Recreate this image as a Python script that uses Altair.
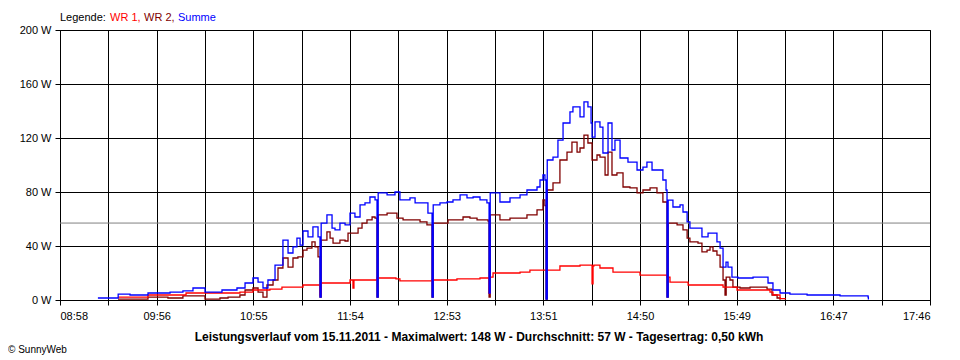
import altair as alt
import pandas as pd

# ---------------- data (time = minutes of day, power in W) ----------------
summe_t = [561.0, 573.2, 573.3, 580.5, 591.4, 604.8, 612.6, 618.7, 626.0, 636.3, 645.4, 650.3,
           655.1, 658.2, 661.2, 664.2, 668.5, 673.3, 676.4, 679.4, 681.8, 683.7, 685.5, 688.5,
           691.5, 694.6, 695.8, 696.5, 700.0, 703.1, 704.9, 707.9, 711.0, 714.0, 717.0, 720.1,
           723.1, 726.1, 729.2, 730.4, 731.1, 736.5, 741.3, 744.3, 750.4, 753.5, 758.3, 761.3,
           763.8, 764.5, 768.6, 772.9, 776.5, 780.8, 785.0, 788.7, 792.9, 797.1, 798.4, 799.1,
           805.0, 811.1, 817.2, 821.4, 827.5, 829.3, 831.1, 832.3, 833.0, 833.7, 837.2, 840.2,
           843.3, 847.5, 849.3, 853.6, 856.0, 858.4, 860.3, 860.9, 862.7, 865.7, 867.5, 870.6,
           873.0, 874.8, 877.9, 882.7, 888.2, 891.8, 894.2, 897.3, 900.9, 903.9, 905.8, 906.4,
           907.1, 910.0, 914.3, 916.1, 918.6, 920.3, 925.2, 927.6, 931.3, 933.7, 936.7, 938.6,
           940.4, 942.2, 943.4, 945.8, 949.5, 958.6, 964.7, 967.7, 970.7, 975.0, 981.0, 991.4,
           1011.4, 1028.4, 1028.6]
summe_w = [1.5, 1.5, 4.4, 3.7, 5.2, 5.9, 6.7, 8.9, 5.9, 7.4, 8.9, 12.6,
           16.3, 13.3, 8.9, 14.8, 25.9, 44.4, 34.8, 39.3, 45.9, 40.7, 51.1, 46.7,
           54.1, 46.7, 2.2, 57.0, 63.0, 53.3, 51.9, 57.0, 55.6, 64.4, 61.5, 70.4,
           71.9, 76.3, 74.1, 2.2, 79.3, 77.8, 80.0, 74.1, 75.6, 71.9, 71.9, 64.4,
           2.2, 70.4, 71.9, 72.6, 74.1, 77.8, 75.6, 76.3, 74.1, 71.9, 5.2, 79.3,
           72.6, 75.6, 77.8, 81.5, 83.7, 88.9, 92.6, 88.9, 0.7, 103.7, 105.9, 118.5,
           131.1, 139.3, 143.0, 135.6, 146.7, 143.0, 131.1, 120.7, 131.9, 128.1, 108.9, 131.1,
           111.1, 118.5, 105.2, 102.2, 96.3, 98.5, 102.2, 96.3, 96.3, 88.9, 81.5, 2.2,
           74.0, 68.9, 70.4, 65.2, 57.8, 53.3, 53.3, 46.7, 49.6, 49.6, 43.0, 38.5,
           24.4, 28.1, 24.4, 17.0, 16.3, 17.0, 17.0, 12.6, 7.4, 5.2, 4.4, 3.7,
           3.0, 2.2, 0.3]

wr2_t = [573.2, 591.4, 603.5, 612.6, 626.0, 635.1, 640.0, 647.2, 650.3, 655.1, 658.2, 661.2,
         663.6, 667.3, 670.3, 673.3, 676.4, 679.4, 682.4, 683.7, 685.5, 687.9, 690.9, 692.8,
         694.6, 695.8, 696.5, 700.0, 701.9, 703.7, 707.9, 711.0, 712.8, 715.8, 718.9, 721.3,
         724.3, 727.4, 729.2, 730.4, 731.1, 736.5, 740.1, 742.5, 746.2, 752.2, 756.5, 760.7,
         763.8, 764.5, 770.4, 773.5, 778.9, 782.6, 786.8, 791.1, 794.7, 797.8, 798.4, 799.1,
         805.0, 811.1, 816.0, 821.4, 827.5, 831.1, 832.3, 833.0, 833.7, 837.2, 841.4, 845.7,
         848.7, 851.8, 853.6, 856.0, 858.4, 860.9, 863.9, 865.7, 868.8, 870.6, 873.0, 876.0,
         879.7, 883.9, 888.2, 891.8, 896.1, 900.3, 903.9, 906.4, 907.1, 912.5, 916.1, 918.6,
         920.3, 925.2, 927.6, 930.7, 932.5, 934.3, 936.7, 938.6, 940.4, 941.6, 942.3, 944.6,
         946.4, 950.7, 956.8, 964.7, 967.1, 970.1, 973.2, 975.0]
wr2_w = [0.7, 2.2, 1.5, 3.0, 0.7, 1.5, 2.2, 3.7, 7.4, 8.9, 5.9, 2.2,
         11.1, 14.8, 23.7, 31.1, 24.4, 31.1, 31.9, 31.9, 37.0, 38.5, 43.0, 39.3,
         31.9, 2.2, 44.4, 50.4, 45.9, 42.2, 44.4, 43.7, 49.6, 49.6, 53.3, 57.0,
         59.3, 61.5, 60.7, 2.2, 63.0, 64.4, 64.4, 60.7, 59.3, 59.3, 57.8, 55.6,
         2.2, 57.0, 57.0, 59.3, 59.3, 61.5, 60.7, 59.3, 59.3, 58.5, 2.2, 63.0,
         59.3, 60.7, 60.7, 63.0, 66.7, 74.1, 70.0, 0.7, 81.5, 86.7, 103.7, 109.6,
         117.0, 109.6, 112.6, 122.2, 116.3, 103.7, 107.4, 105.9, 92.6, 109.6, 92.6, 94.1,
         83.7, 83.0, 79.3, 81.5, 83.0, 79.3, 72.6, 2.2, 57.0, 55.6, 51.9, 45.9,
         43.0, 42.2, 35.6, 37.0, 39.3, 36.3, 33.3, 24.4, 14.8, 3.7, 17.0, 14.8,
         9.6, 8.9, 9.6, 9.6, 8.1, 3.7, 1.5, 0.2]

wr1_t = [573.2, 591.4, 614.5, 647.2, 655.1, 665.4, 672.7, 685.5, 695.8, 696.5, 714.0, 715.8,
         716.4, 730.4, 741.9, 744.3, 763.8, 778.9, 792.9, 798.4, 799.0, 800.8, 817.2, 823.2,
         841.4, 853.6, 860.9, 861.5, 862.0, 865.7, 873.6, 890.0, 906.4, 908.2, 919.2, 940.4,
         948.9, 968.9, 970.7, 975.0, 978.0]
wr1_w = [2.2, 3.7, 5.2, 5.9, 7.4, 8.1, 9.6, 11.1, 3.7, 12.6, 14.8, 8.9,
         14.8, 16.3, 15.6, 14.1, 14.8, 15.6, 16.3, 5.0, 17.0, 20.0, 20.7, 22.2,
         25.2, 25.9, 12.0, 25.2, 25.9, 23.7, 20.7, 18.5, 17.0, 13.3, 11.1, 9.6,
         7.4, 5.9, 3.7, 1.0, 0.3]

average_w = [57]
series_names = ["WR 1", "WR 2", "Summe"]
series_colors = ["#ff0000", "#800000", "#0000ff"]

x_tick_values = [538, 567.33, 596.67, 626, 655.33, 684.67, 714, 743.33, 772.67, 802,
                 831.33, 860.67, 890, 919.33, 948.67, 978, 1007.33, 1036.67, 1066]
x_tick_labels = ["08:58", "", "09:56", "", "10:55", "", "11:54", "", "12:53", "",
                 "13:51", "", "14:50", "", "15:49", "", "16:47", "", "17:46"]
y_tick_values = [0, 40, 80, 120, 160, 200]

legend_texts = ["Legende:", "WR 1,", "WR 2,", "Summe"]
legend_colors = ["#000000", "#ff0000", "#800000", "#0000ff"]
footer_text = ("Leistungsverlauf vom 15.11.2011 - Maximalwert: 148 W - "
               "Durchschnitt: 57 W - Tagesertrag: 0,50 kWh")
copyright_text = "\u00a9 SunnyWeb"

# ---------------- build ----------------
FONT = "Liberation Sans"
df = pd.concat([
    pd.DataFrame({"t": wr2_t, "w": wr2_w, "s": "WR 2", "o": 0}),
    pd.DataFrame({"t": wr1_t, "w": wr1_w, "s": "WR 1", "o": 1}),
    pd.DataFrame({"t": summe_t, "w": summe_w, "s": "Summe", "o": 2}),
], ignore_index=True)

label_arr = "[" + ",".join("'" + s + "'" for s in x_tick_labels) + "]"
x_scale = alt.Scale(domain=[538, 1066], nice=False, zero=False)
y_scale = alt.Scale(domain=[0, 200], nice=False)

x_axis = alt.Axis(values=x_tick_values, title=None, grid=True, gridColor="#000000",
                  gridOpacity=1, gridWidth=1, domainColor="#000000", tickColor="#000000",
                  tickSize=5, labelPadding=5, labelFont=FONT, labelFontSize=11,
                  labelColor="#000000", labelOverlap=False,
                  labelExpr=label_arr + "[round((datum.value-538)/29.3333)]")
y_axis = alt.Axis(values=y_tick_values, title=None, grid=True, gridColor="#000000",
                  gridOpacity=1, gridWidth=1, domainColor="#000000", tickColor="#000000",
                  tickSize=5, labelPadding=4, labelFont=FONT, labelFontSize=11,
                  labelColor="#000000", labelExpr="datum.value + ' W'")

base = alt.Chart(df)
avg = alt.Chart(pd.DataFrame({"a": average_w})).mark_rule(color="#808080", strokeWidth=1).encode(
    y=alt.Y("a:Q", scale=y_scale, axis=y_axis))

lines = base.mark_line(interpolate="step-after", strokeWidth=1.3).encode(
    x=alt.X("t:Q", scale=x_scale, axis=x_axis),
    y=alt.Y("w:Q", scale=y_scale, axis=y_axis),
    color=alt.Color("s:N", scale=alt.Scale(domain=series_names, range=series_colors), legend=None),
    order="o:Q",
    detail="s:N",
)

legend_x = [0, 50, 84, 118]
leg_df = pd.DataFrame({"txt": legend_texts, "c": legend_colors, "px": legend_x})
legend = alt.Chart(leg_df).mark_text(align="left", baseline="middle", font=FONT, fontSize=11).encode(
    x=alt.X("px:Q", scale=None), y=alt.value(-12), text="txt:N",
    color=alt.Color("c:N", scale=None))

footer = alt.Chart(pd.DataFrame({"txt": [footer_text]})).mark_text(
    align="center", baseline="middle", font=FONT, fontSize=12, fontWeight="bold",
    color="#000000").encode(x=alt.value(419), y=alt.value(307), text="txt:N")
copy_ = alt.Chart(pd.DataFrame({"txt": [copyright_text]})).mark_text(
    align="left", baseline="middle", font=FONT, fontSize=10, color="#000000").encode(
    x=alt.value(-52), y=alt.value(320), text="txt:N")

chart = alt.layer(avg, lines, legend, footer, copy_).properties(
    width=870, height=270,
    autosize=alt.AutoSizeParams(type="none"),
    padding={"left": 52, "top": 22, "right": 22, "bottom": 60},
    background="#ffffff",
).configure_view(stroke="#000000", strokeWidth=1)

chart.save("out.html", embed_options={"renderer": "svg", "actions": False})
